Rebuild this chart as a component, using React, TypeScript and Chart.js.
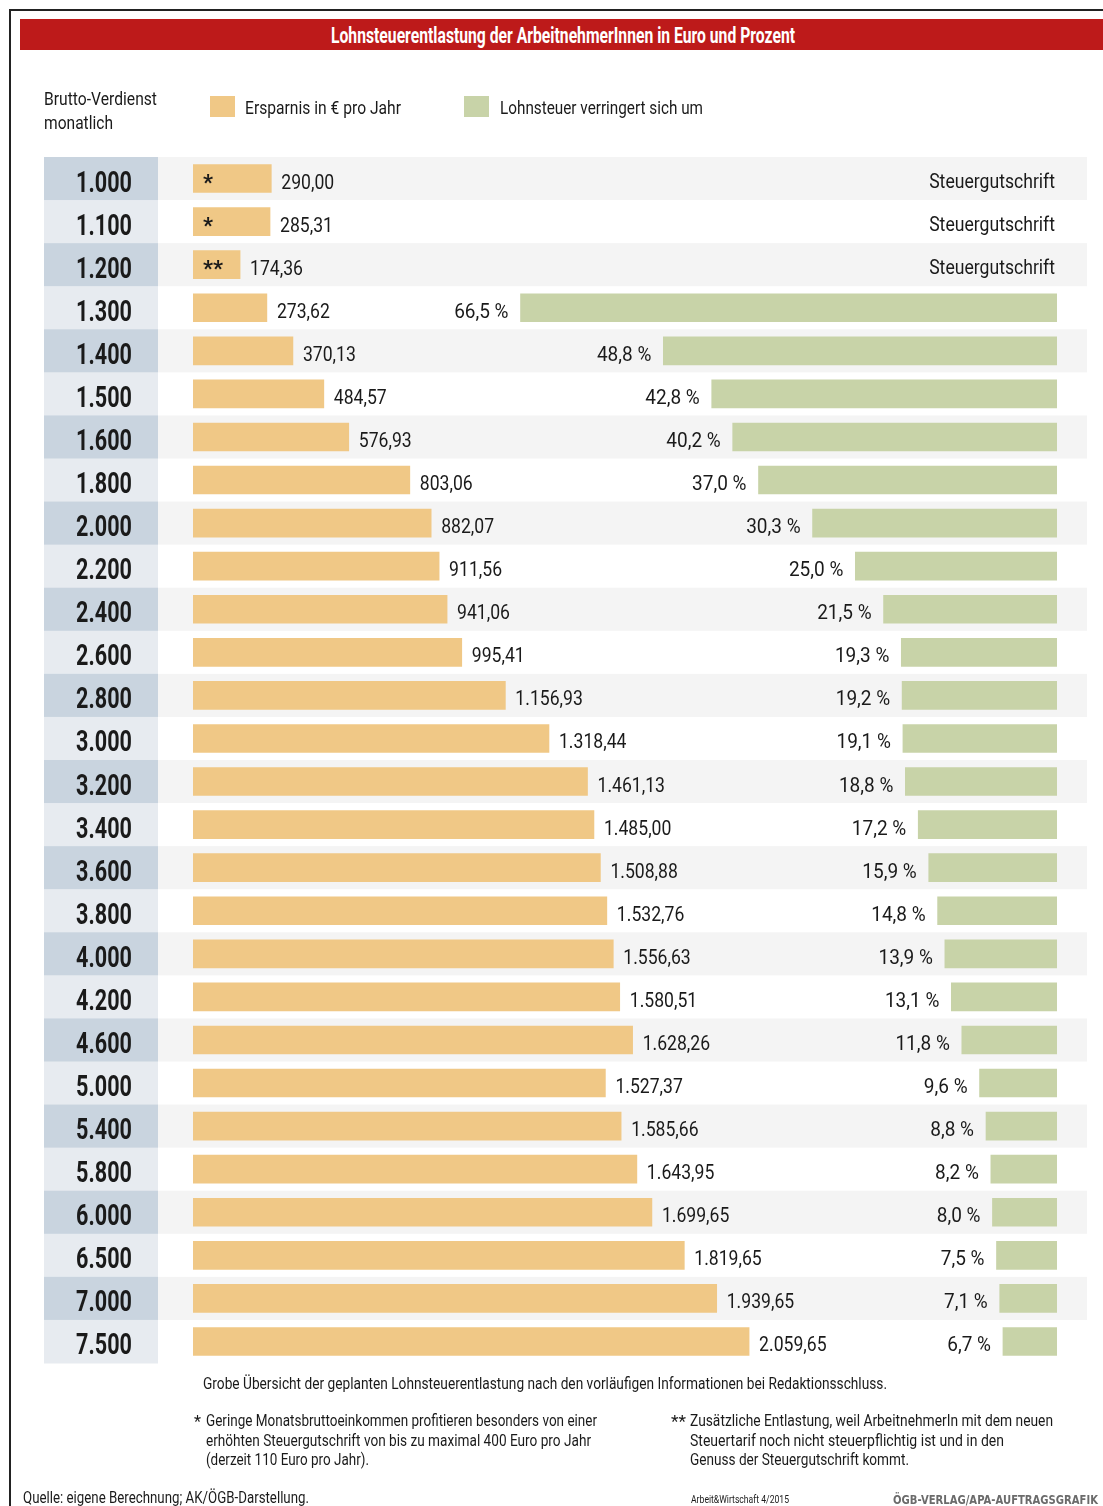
import React, { useEffect, useRef } from 'react';
import { Chart, registerables } from 'chart.js';

Chart.register(...registerables);

// ---------- data ----------
const incomes = ['1.000', '1.100', '1.200', '1.300', '1.400', '1.500', '1.600', '1.800', '2.000', '2.200', '2.400', '2.600', '2.800', '3.000', '3.200', '3.400', '3.600', '3.800', '4.000', '4.200', '4.600', '5.000', '5.400', '5.800', '6.000', '6.500', '7.000', '7.500'];
const savings = [290.0, 285.31, 174.36, 273.62, 370.13, 484.57, 576.93, 803.06, 882.07, 911.56, 941.06, 995.41, 1156.93, 1318.44, 1461.13, 1485.0, 1508.88, 1532.76, 1556.63, 1580.51, 1628.26, 1527.37, 1585.66, 1643.95, 1699.65, 1819.65, 1939.65, 2059.65];
const taxReduction: (number | null)[] = [null, null, null, 66.5, 48.8, 42.8, 40.2, 37.0, 30.3, 25.0, 21.5, 19.3, 19.2, 19.1, 18.8, 17.2, 15.9, 14.8, 13.9, 13.1, 11.8, 9.6, 8.8, 8.2, 8.0, 7.5, 7.1, 6.7];
const savingMarks = ['*', '*', '**'];
const creditLabel = 'Steuergutschrift';

const titleText = 'Lohnsteuerentlastung der ArbeitnehmerInnen in Euro und Prozent';
const legendSavings = 'Ersparnis in € pro Jahr';
const legendTax = 'Lohnsteuer verringert sich um';
const rowHeader = ['Brutto-Verdienst', 'monatlich'];
const noteMain = 'Grobe Übersicht der geplanten Lohnsteuerentlastung nach den vorläufigen Informationen bei Redaktionsschluss.';
const noteOne = ['Geringe Monatsbruttoeinkommen profitieren besonders von einer', 'erhöhten Steuergutschrift von bis zu maximal 400 Euro pro Jahr', '(derzeit 110 Euro pro Jahr).'];
const noteTwo = ['Zusätzliche Entlastung, weil ArbeitnehmerIn mit dem neuen', 'Steuertarif noch nicht steuerpflichtig ist und in den', 'Genuss der Steuergutschrift kommt.'];
const sourceText = 'Quelle: eigene Berechnung; AK/ÖGB-Darstellung.';
const issueText = 'Arbeit&Wirtschaft 4/2015';
const creditText = 'ÖGB-VERLAG/APA-AUFTRAGSGRAFIK';

const ORANGE = '#f0c886';
const GREEN = '#c8d3a8';
const STRIPE = '#f4f4f4';
const LEFT_DARK = '#c9d4df';
const LEFT_LIGHT = '#e7ebf0';
const TEXT = '#1a1a1a';
const FONT = 'Roboto, "Liberation Sans", sans-serif';
const LABEL_SCALE = 0.88;
const PCT_SCALE = 0.95;
const BOLD_SCALE = 0.72;

function fmtDe(v: number): string {
  const [intPart, dec] = v.toFixed(2).split('.');
  const withDots = intPart.replace(/\B(?=(\d{3})+(?!\d))/g, '.');
  return withDots + ',' + dec;
}
function fmtPct(v: number): string {
  return v.toFixed(1).replace('.', ',') + ' %';
}

function narrowText(ctx: CanvasRenderingContext2D, text: string, x: number, y: number, k: number) {
  ctx.save();
  ctx.translate(x, y);
  ctx.scale(k, 1);
  ctx.fillText(text, 0, 0);
  ctx.restore();
}

const tablePlugin = {
  id: 'tablePlugin',
  beforeDatasetsDraw(chart: any) {
    const ctx = chart.ctx;
    const y = chart.scales.y;
    const n = incomes.length;
    const pitch = (chart.chartArea.bottom - chart.chartArea.top) / n;
    ctx.save();
    for (let i = 0; i < n; i++) {
      const c = y.getPixelForValue(i);
      const top = c - pitch / 2;
      if (i % 2 === 0) {
        ctx.fillStyle = STRIPE;
        ctx.fillRect(158, top, 1087 - 158, pitch);
      }
      ctx.fillStyle = i % 2 === 0 ? LEFT_DARK : LEFT_LIGHT;
      ctx.fillRect(44, top, 158 - 44, pitch + 0.5);
      ctx.fillStyle = TEXT;
      ctx.font = `bold 30px ${FONT}`;
      ctx.textAlign = 'center';
      ctx.textBaseline = 'alphabetic';
      narrowText(ctx, incomes[i], 104, c + 13, BOLD_SCALE);
    }
    ctx.restore();
  },
  afterDatasetsDraw(chart: any) {
    const ctx = chart.ctx;
    const y = chart.scales.y;
    const x = chart.scales.x;
    const x2 = chart.scales.x2;
    const n = incomes.length;
    ctx.save();
    ctx.fillStyle = TEXT;
    ctx.textBaseline = 'alphabetic';
    ctx.font = `20px ${FONT}`;
    for (let i = 0; i < n; i++) {
      const c = y.getPixelForValue(i);
      const base = c + 10;
      const end = x.getPixelForValue(savings[i]);
      ctx.textAlign = 'left';
      narrowText(ctx, fmtDe(savings[i]), end + 10, base, LABEL_SCALE);
      if (savingMarks[i]) {
        ctx.font = `bold 22px ${FONT}`;
        narrowText(ctx, savingMarks[i], x.getPixelForValue(0) + 10, base + 1, 1);
        ctx.font = `20px ${FONT}`;
      }
      const p = taxReduction[i];
      ctx.textAlign = 'right';
      if (p === null) {
        narrowText(ctx, creditLabel, 1055, base - 1, LABEL_SCALE);
      } else {
        const start = x2.getPixelForValue(p);
        narrowText(ctx, fmtPct(p), start - 12, base, PCT_SCALE);
      }
    }
    ctx.restore();
  },
};

let measureCtx: CanvasRenderingContext2D | null = null;
function measure(text: string, font: string): number {
  if (!measureCtx) measureCtx = document.createElement('canvas').getContext('2d');
  measureCtx!.font = font;
  return measureCtx!.measureText(text).width;
}

type FitProps = { text: string; left: number; cy: number; width: number; size: number; bold?: boolean; color?: string; family?: string };
function Fit({ text, left, cy, width, size, bold, color, family }: FitProps) {
  const fam = family || FONT;
  const weight = bold ? 'bold' : 'normal';
  const w = measure(text, `${weight} ${size}px ${fam}`);
  const k = w > 0 ? width / w : 1;
  const lh = Math.round(size * 1.3);
  return (
    <div
      style={{
        position: 'absolute',
        left,
        top: cy - lh / 2,
        height: lh,
        lineHeight: `${lh}px`,
        fontSize: size,
        fontWeight: weight as any,
        fontFamily: fam,
        color: color || TEXT,
        whiteSpace: 'nowrap',
        transform: `scaleX(${k})`,
        transformOrigin: 'left center',
      }}
    >
      {text}
    </div>
  );
}

export default function App() {
  const ref = useRef<HTMLCanvasElement | null>(null);
  useEffect(() => {
    if (!ref.current) return;
    const chart = new Chart(ref.current, {
      type: 'bar',
      data: {
        labels: incomes,
        datasets: [
          { label: legendSavings, data: savings, backgroundColor: ORANGE, xAxisID: 'x', yAxisID: 'y', grouped: false, barThickness: 28 } as any,
          { label: legendTax, data: taxReduction, backgroundColor: GREEN, xAxisID: 'x2', yAxisID: 'y', grouped: false, barThickness: 28 } as any,
        ],
      },
      options: {
        indexAxis: 'y',
        responsive: false,
        maintainAspectRatio: false,
        animation: false,
        layout: { padding: { left: 193, right: 46, top: 157, bottom: 143 } },
        scales: {
          x: { display: false, min: 0, max: 3200 },
          x2: { display: false, min: 0, max: 107.1, reverse: true },
          y: { display: false },
        },
        plugins: { legend: { display: false }, tooltip: { enabled: false } },
      } as any,
      plugins: [tablePlugin],
    });
    return () => chart.destroy();
  }, []);

  return (
    <div style={{ position: 'absolute', left: 0, top: 0, width: 1103, height: 1506, background: '#fff', overflow: 'hidden' }}>
      <canvas ref={ref} width={1103} height={1506} style={{ position: 'absolute', left: 0, top: 0, width: 1103, height: 1506 }} />
      {/* frame */}
      <div style={{ position: 'absolute', left: 9, top: 9, width: 1103, height: 1506, borderTop: '2px solid #222', borderLeft: '2px solid #222' }} />
      {/* title banner */}
      <div style={{ position: 'absolute', left: 20, top: 19, width: 1083, height: 31, background: '#bd1a1a' }} />
      <Fit text={titleText} left={331} cy={35} width={464} size={22} bold color="#fff" />
      {/* legend */}
      <Fit text={rowHeader[0]} left={44} cy={98} width={113} size={19} />
      <Fit text={rowHeader[1]} left={44} cy={122} width={69} size={19} />
      <div style={{ position: 'absolute', left: 210, top: 96, width: 25, height: 21, background: ORANGE }} />
      <Fit text={legendSavings} left={245} cy={107} width={156} size={19} />
      <div style={{ position: 'absolute', left: 464, top: 96, width: 25, height: 21, background: GREEN }} />
      <Fit text={legendTax} left={500} cy={107} width={203} size={19} />
      {/* footnotes */}
      <Fit text={noteMain} left={203} cy={1383} width={684} size={16} />
      <Fit text="*" left={194} cy={1421} width={7} size={16} />
      <Fit text={noteOne[0]} left={206} cy={1420} width={391} size={16} />
      <Fit text={noteOne[1]} left={206} cy={1440} width={385} size={16} />
      <Fit text={noteOne[2]} left={206} cy={1459} width={163} size={16} />
      <Fit text="**" left={671} cy={1421} width={15} size={16} />
      <Fit text={noteTwo[0]} left={690} cy={1420} width={363} size={16} />
      <Fit text={noteTwo[1]} left={690} cy={1440} width={314} size={16} />
      <Fit text={noteTwo[2]} left={690} cy={1459} width={219} size={16} />
      <Fit text={sourceText} left={23} cy={1497} width={286} size={16} />
      <Fit text={issueText} left={691} cy={1500} width={98} size={11} />
      <Fit text={creditText} left={893} cy={1499} width={205} size={13} bold color="#6b6b6b" family='"DejaVu Sans", sans-serif' />
    </div>
  );
}
